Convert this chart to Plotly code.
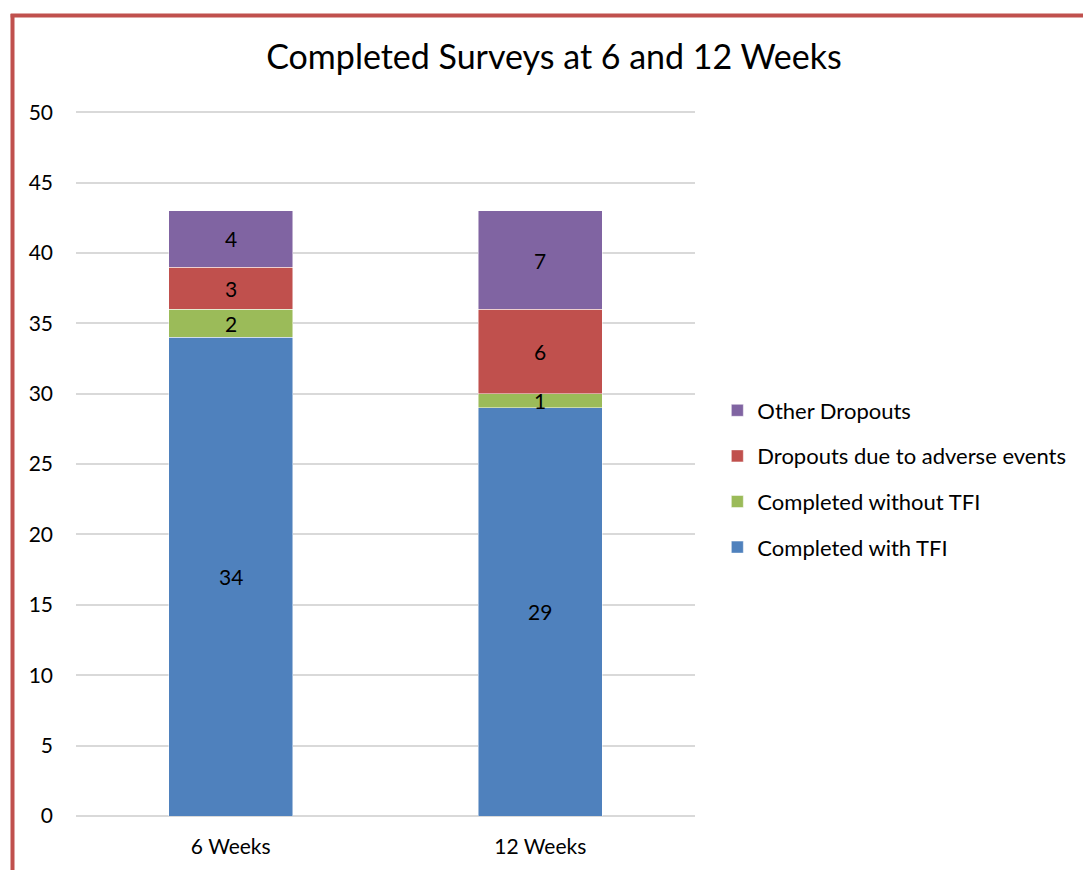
import numpy as np
import plotly.graph_objects as go

# Survey completion counts per time point
categories = ["6 Weeks", "12 Weeks"]
series_names = [
    "Completed with TFI",
    "Completed without TFI",
    "Dropouts due to adverse events",
    "Other Dropouts",
]
completed_with_tfi = [34, 29]
completed_without_tfi = [2, 1]
dropouts_adverse = [3, 6]
other_dropouts = [4, 7]
y_ticks = [0, 5, 10, 15, 20, 25, 30, 35, 40, 45, 50]

series_values = [completed_with_tfi, completed_without_tfi, dropouts_adverse, other_dropouts]
colors = ["#4F81BD", "#9BBB59", "#C0504D", "#8064A2"]

FONT = "Lato"
W, H = 1083, 870
L, R, T, B = 76, 388, 108, 54
Y_MAX = 50.3

fig = go.Figure()
n = len(series_names)
for i, (name, vals, col) in enumerate(zip(series_names, series_values, colors)):
    fig.add_trace(go.Bar(
        x=categories, y=vals, name=name,
        marker=dict(color=col, line=dict(color="rgba(255,255,255,0.6)", width=0.8)),
        width=0.4, legendgroup=name, legendrank=n - i,
    ))

# Value labels centred in each stacked segment
cum = np.zeros(len(categories))
for vals in series_values:
    v = np.array(vals, dtype=float)
    for j, cat in enumerate(categories):
        fig.add_annotation(x=cat, y=cum[j] + v[j] / 2, text=str(vals[j]),
                           showarrow=False, font=dict(family=FONT, size=21, color="#000000"),
                           xref="x", yref="y")
    cum += v

pw = W - L - R
ph = H - T - B
# Red frame along the left and top edges
x_left = (12.5 - L) / pw
y_top = (H - B - 15.5) / ph
fig.add_shape(type="line", xref="paper", yref="paper", x0=x_left, x1=x_left,
              y0=-1, y1=y_top + 0.002, line=dict(color="#C0504D", width=4))
fig.add_shape(type="line", xref="paper", yref="paper", x0=x_left - 0.003, x1=2,
              y0=y_top, y1=y_top, line=dict(color="#C0504D", width=4))

fig.update_layout(
    width=W, height=H,
    margin=dict(l=L, r=R, t=T, b=B, autoexpand=False),
    paper_bgcolor="white", plot_bgcolor="white",
    barmode="stack", bargap=0.6,
    font=dict(family=FONT, size=21, color="#000000"),
    title=dict(text="Completed Surveys at 6 and 12 Weeks", xref="container", x=0.5115,
               xanchor="center", yref="container", y=1 - 57 / H, yanchor="middle",
               font=dict(family=FONT, size=34, color="#000000")),
    legend=dict(x=(739 - L) / pw - 0.035, xanchor="left", y=(H - B - 479) / ph, yanchor="middle",
                traceorder="grouped", tracegroupgap=14,
                font=dict(family=FONT, size=22, color="#000000"), bgcolor="rgba(0,0,0,0)"),
    xaxis=dict(range=[-0.5, 1.5], showgrid=False, showline=False, zeroline=False,
               ticks="", ticklabelstandoff=16, tickfont=dict(family=FONT, size=21)),
    yaxis=dict(range=[0, Y_MAX], tickvals=y_ticks, showgrid=True, gridcolor="#D9D9D9",
               gridwidth=1.5, zeroline=True, zerolinecolor="#D9D9D9", zerolinewidth=1.5,
               showline=False, ticks="", ticklabelstandoff=22,
               tickfont=dict(family=FONT, size=21)),
)

fig.write_html("out.html")
